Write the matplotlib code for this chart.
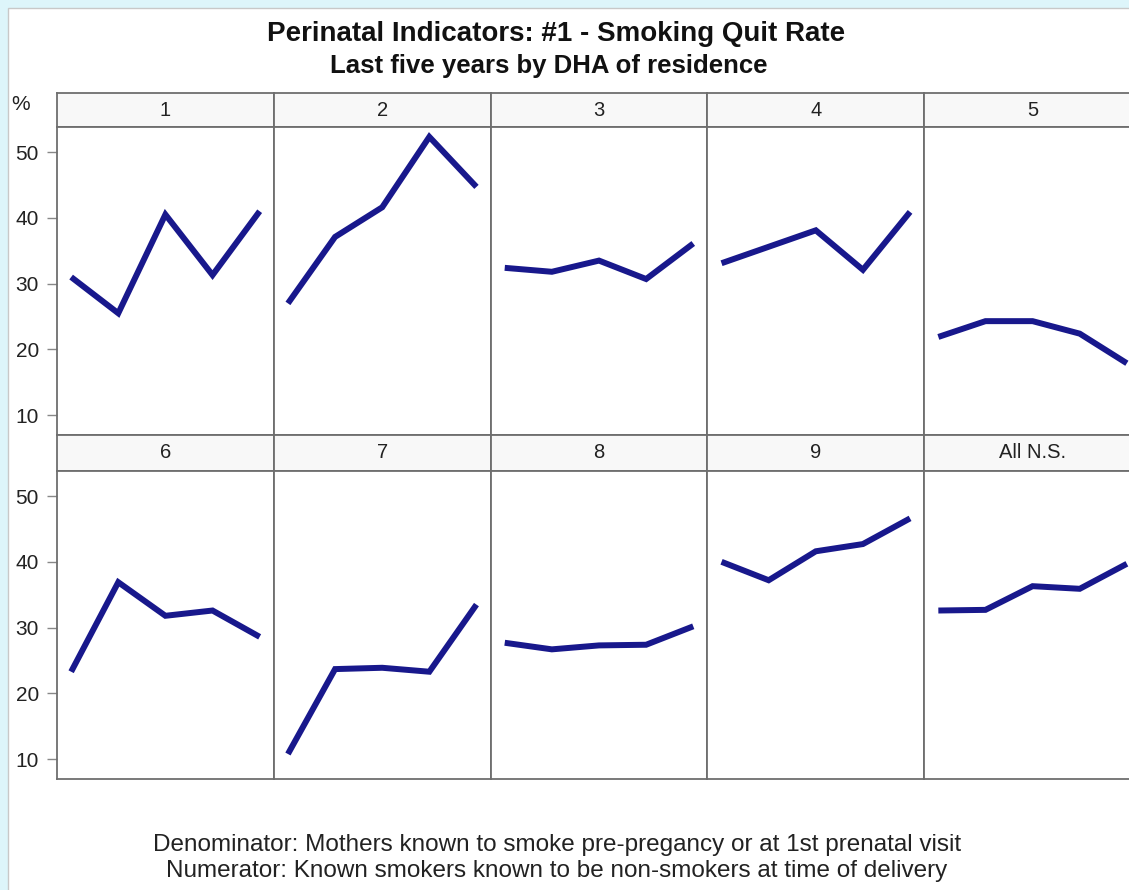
import matplotlib
matplotlib.use("Agg")
import matplotlib.pyplot as plt
from matplotlib.patches import Rectangle

plt.rcParams['font.family'] = ['Liberation Sans', 'DejaVu Sans']

# ---- data ----
years = [1, 2, 3, 4, 5]
panel_labels = ["1", "2", "3", "4", "5", "6", "7", "8", "9", "All N.S."]
rate_1 = [31.0, 25.5, 40.5, 31.3, 41.0]
rate_2 = [27.0, 37.1, 41.6, 52.3, 44.7]
rate_3 = [32.4, 31.8, 33.5, 30.7, 36.1]
rate_4 = [33.1, 35.6, 38.1, 32.1, 40.9]
rate_5 = [21.9, 24.3, 24.3, 22.4, 17.9]
rate_6 = [23.3, 36.9, 31.8, 32.6, 28.6]
rate_7 = [10.8, 23.7, 23.9, 23.3, 33.5]
rate_8 = [27.7, 26.7, 27.3, 27.4, 30.2]
rate_9 = [40.0, 37.2, 41.6, 42.7, 46.6]
rate_all = [32.6, 32.7, 36.3, 35.9, 39.7]
series = [rate_1, rate_2, rate_3, rate_4, rate_5,
          rate_6, rate_7, rate_8, rate_9, rate_all]
y_ticks = [10, 20, 30, 40, 50]

W, H = 1129, 890
fig = plt.figure(figsize=(W / 100, H / 100), dpi=100)
fig.patch.set_facecolor('#DDF5FA')

def fx(px):
    return px / W

def fy(py):
    return 1 - py / H

# white inner panel
fig.patches.append(Rectangle((fx(8), -0.1), 1.2, fy(8) + 0.1, transform=fig.transFigure,
                             facecolor='white', edgecolor='#C8C8C8', lw=1.0, zorder=-10))

line_color = '#18188C'
frame_color = '#6E6E6E'
panel_w = 216.8
left0 = 57
rows = [(93, 127, 435), (435, 471, 779)]  # strip top, plot top, plot bottom

for i, (lab, vals) in enumerate(zip(panel_labels, series)):
    r, c = divmod(i, 5)
    st, pt, pb = rows[r]
    x0 = left0 + c * panel_w
    # strip
    sax = fig.add_axes([fx(x0), fy(pt), fx(panel_w), (pt - st) / H])
    sax.set_facecolor('#F8F8F8')
    sax.set_xticks([]); sax.set_yticks([])
    for s in sax.spines.values():
        s.set_color(frame_color); s.set_linewidth(1.3)
    sax.text(0.5, 0.5, lab, ha='center', va='center', fontsize=14.5, color='#222222',
             transform=sax.transAxes)
    # plot
    ax = fig.add_axes([fx(x0), fy(pb), fx(panel_w), (pb - pt) / H])
    ax.set_facecolor('white')
    ax.plot(years, vals, color=line_color, lw=4.3, solid_capstyle='butt',
            solid_joinstyle='miter')
    ax.set_xlim(0.7, 5.3)
    ax.set_ylim(7.0, 53.8)
    ax.set_xticks([])
    ax.set_yticks(y_ticks)
    for s in ax.spines.values():
        s.set_color(frame_color); s.set_linewidth(1.3)
    if c == 0:
        ax.tick_params(axis='y', length=7, width=1, color='#888888', pad=6,
                       labelsize=15, labelcolor='#222222')
    else:
        ax.tick_params(axis='y', length=0, labelleft=False)

fig.text(fx(21), fy(105), '%', ha='center', va='center', fontsize=15, color='#222222')

fig.text(fx(556), fy(34), 'Perinatal Indicators: #1 - Smoking Quit Rate',
         ha='center', va='center', fontsize=20, fontweight='bold', color='#111111')
fig.text(fx(549), fy(66), 'Last five years by DHA of residence',
         ha='center', va='center', fontsize=18.5, fontweight='bold', color='#111111')

fig.text(fx(557), fy(845),
         'Denominator: Mothers known to smoke pre-pregancy or at 1st prenatal visit',
         ha='center', va='center', fontsize=17.5, color='#222222')
fig.text(fx(557), fy(871),
         'Numerator: Known smokers known to be non-smokers at time of delivery',
         ha='center', va='center', fontsize=17.5, color='#222222')

fig.savefig('out.png', dpi=100, facecolor=fig.get_facecolor())
